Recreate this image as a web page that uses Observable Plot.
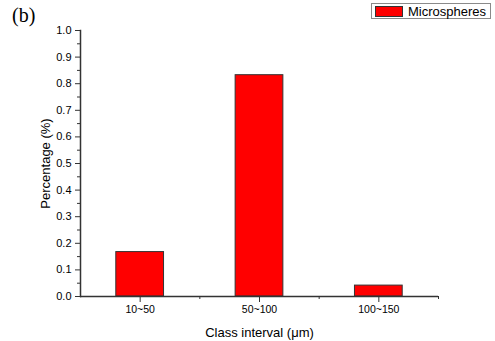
<!DOCTYPE html>
<html>
<head>
<meta charset="utf-8">
<script src="https://cdn.jsdelivr.net/npm/d3@7"></script>
<script src="https://cdn.jsdelivr.net/npm/@observablehq/plot@0.6"></script>
<style>
  html, body { margin: 0; padding: 0; background: #fff; }
  #wrap { position: relative; width: 495px; height: 341px; font-family: "Liberation Sans", Arial, sans-serif; }
  #tag { position: absolute; left: 12px; top: 4px; font-family: "Liberation Serif", "Times New Roman", serif; font-size: 20px; color: #000; }
  #legend { position: absolute; left: 371px; top: 3px; width: 120px; height: 16px; border: 1px solid #8a8a8a; background: #fff; display: flex; align-items: center; box-sizing: border-box; }
  #legend .sw { width: 28px; height: 11px; background: #ff0000; border: 1px solid #333; box-sizing: border-box; margin-left: 3px; }
  #legend .lb { font-size: 13px; margin-left: 5px; color: #000; }
</style>
</head>
<body>
<div id="wrap">
  <div id="chart"></div>
  <div id="tag">(b)</div>
  <div id="legend"><div class="sw"></div><div class="lb">Microspheres</div></div>
</div>
<script>
const categories = ["10~50", "50~100", "100~150"];
const percentages = [0.167, 0.832, 0.041];
const yMajorTicks = [0, 0.1, 0.2, 0.3, 0.4, 0.5, 0.6, 0.7, 0.8, 0.9, 1.0];
const yMinorTicks = [0.05, 0.15, 0.25, 0.35, 0.45, 0.55, 0.65, 0.75, 0.85, 0.95];
const seriesName = "Microspheres";

const data = categories.map((c, i) => ({category: c, i, value: percentages[i]}));
const xCenters = categories.map((c, i) => i + 0.5);
const xBounds = categories.map((c, i) => i + 1);

const chart = Plot.plot({
  width: 495,
  height: 341,
  marginLeft: 80,
  marginRight: 57,
  marginTop: 30,
  marginBottom: 45,
  style: {fontFamily: "Liberation Sans, Arial, sans-serif", color: "#000", background: "#fff"},
  x: {type: "linear", domain: [0, categories.length]},
  y: {domain: [0, 1]},
  marks: [
    Plot.rectY(data, {x1: d => d.i + 0.3, x2: d => d.i + 0.7, y: "value", fill: "#ff0000", stroke: "#333", strokeWidth: 1}),
    Plot.ruleY([0], {stroke: "#333", strokeWidth: 1.5}),
    Plot.frame({anchor: "left", stroke: "#333", strokeWidth: 1.5}),
    Plot.axisY({ticks: yMajorTicks, tickSize: 5, tickPadding: 4, tickFormat: d3.format(".1f"), fontSize: 11, stroke: "#333", label: null}),
    Plot.axisY({ticks: yMinorTicks, tickSize: 3, tickFormat: () => "", label: null, stroke: "#333"}),
    Plot.axisY({ticks: [], fontSize: 13, label: "Percentage (%)", labelAnchor: "center", labelArrow: "none", labelOffset: 40}),
    Plot.axisX({ticks: xCenters, tickSize: 6, tickPadding: 3, tickFormat: d => categories[Math.floor(d)], fontSize: 10.5, stroke: "#333", label: null}),
    Plot.axisX({ticks: xBounds, tickSize: 3, tickFormat: () => "", label: null, stroke: "#333"}),
    Plot.axisX({ticks: [], fontSize: 13, label: "Class interval (μm)", labelAnchor: "center", labelArrow: "none", labelOffset: 40})
  ]
});
document.getElementById("chart").appendChild(chart);
</script>
</body>
</html>
